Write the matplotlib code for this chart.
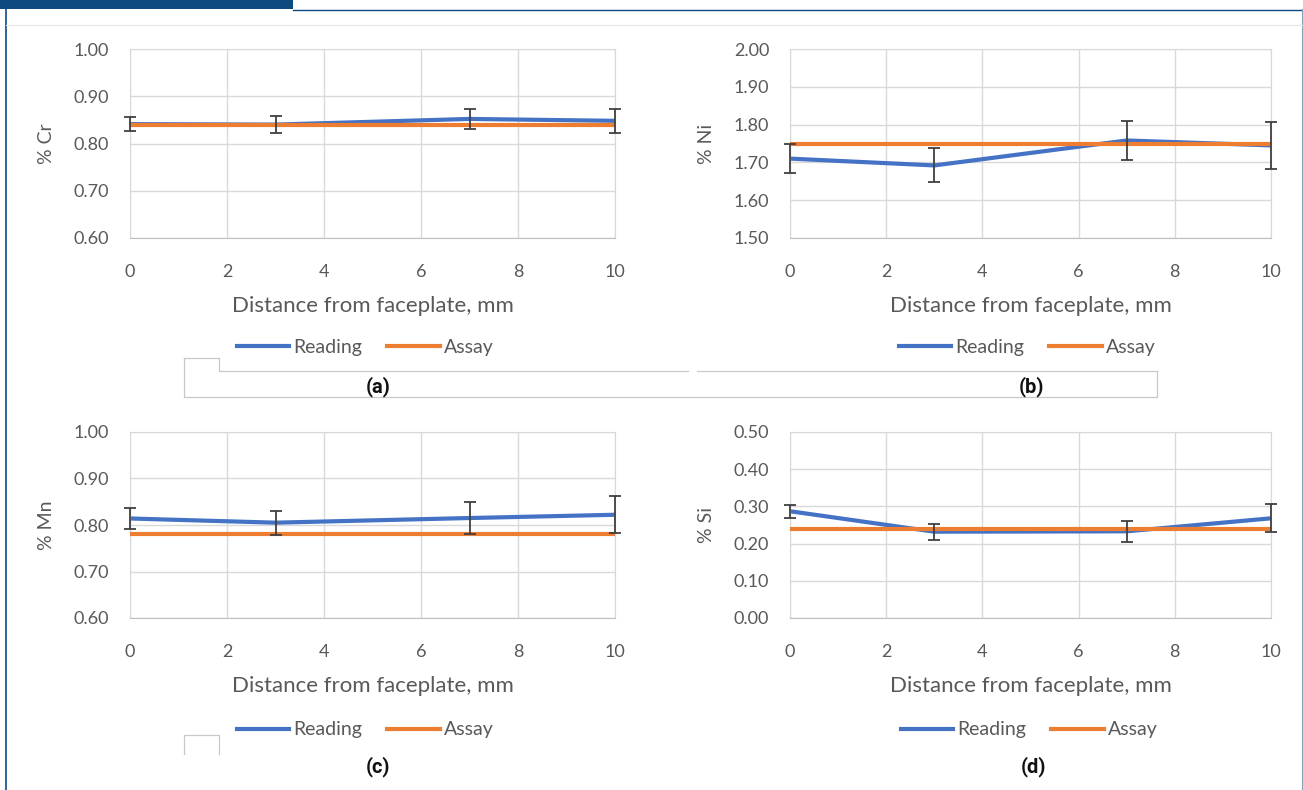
import matplotlib.pyplot as plt
from matplotlib.lines import Line2D
from matplotlib.patches import Rectangle

# distance from faceplate, mm
dist = [0, 3, 7, 10]

# readings (blue), error bars and assay (orange) for each element
cr_reading = [0.841, 0.840, 0.852, 0.848]
cr_err = [0.015, 0.018, 0.022, 0.026]
cr_assay = [0.840, 0.840, 0.840, 0.840]

ni_reading = [1.710, 1.692, 1.758, 1.745]
ni_err = [0.038, 0.045, 0.052, 0.063]
ni_assay = [1.750, 1.750, 1.750, 1.750]

mn_reading = [0.814, 0.805, 0.815, 0.822]
mn_err = [0.022, 0.026, 0.034, 0.040]
mn_assay = [0.780, 0.780, 0.780, 0.780]

si_reading = [0.287, 0.232, 0.233, 0.268]
si_err = [0.018, 0.022, 0.029, 0.038]
si_assay = [0.240, 0.240, 0.240, 0.240]

x_ticks = [0, 2, 4, 6, 8, 10]

W, H = 1303, 790
fig = plt.figure(figsize=(W / 100, H / 100), dpi=100)
fig.patch.set_facecolor('white')

font = ['Lato', 'DejaVu Sans']
txt = '#595959'
grid = '#d9d9d9'
blue = '#4472c4'
orange = '#ed7d31'


def px_axes(left, right, top, bottom):
    return fig.add_axes([left / W, 1 - bottom / H, (right - left) / W, (bottom - top) / H])


def panel(ax, reading, err, assay, ylo, yhi, ystep, ylabel, ylab_x):
    ax.plot(dist, assay, color=orange, lw=3, solid_capstyle='butt', zorder=3, label='Assay')
    ax.plot(dist, reading, color=blue, lw=3, solid_capstyle='butt', zorder=2, label='Reading')
    ax.errorbar(dist, reading, yerr=err, fmt='none', ecolor='#404040', elinewidth=1.3,
                capsize=4, capthick=1.3, zorder=4, clip_on=False)
    ax.set_xlim(0, 10)
    ax.set_ylim(ylo, yhi)
    ax.set_xticks(x_ticks)
    n = int(round((yhi - ylo) / ystep))
    ax.set_yticks([ylo + i * ystep for i in range(n + 1)])
    ax.yaxis.set_major_formatter(plt.FormatStrFormatter('%.2f'))
    ax.grid(True, color=grid, lw=1)
    ax.set_axisbelow(True)
    for s in ax.spines.values():
        s.set_color(grid)
    ax.spines['bottom'].set_color('#bfbfbf')
    ax.tick_params(axis='x', length=0, labelsize=13, labelcolor=txt, pad=19)
    ax.tick_params(axis='y', length=0, labelsize=13, labelcolor=txt, pad=15)
    for lab in ax.get_xticklabels() + ax.get_yticklabels():
        lab.set_family(font)
    bb = ax.get_position()
    h_px = bb.height * H
    ax.set_xlabel('Distance from faceplate, mm', fontsize=16, color=txt, family=font, va='center')
    ax.xaxis.set_label_coords(0.5, -68 / h_px)
    ax.set_ylabel(ylabel, fontsize=14, color=txt, family=font, va='center')
    ax.yaxis.set_label_coords((ylab_x - bb.x0 * W) / (bb.width * W), 0.5)


ax_a = px_axes(130, 615, 49, 238)
ax_b = px_axes(790, 1271, 49, 238)
ax_c = px_axes(130, 615, 432, 618)
ax_d = px_axes(790, 1271, 432, 618)

panel(ax_a, cr_reading, cr_err, cr_assay, 0.60, 1.00, 0.10, '% Cr', 46)
panel(ax_b, ni_reading, ni_err, ni_assay, 1.50, 2.00, 0.10, '% Ni', 706)
panel(ax_c, mn_reading, mn_err, mn_assay, 0.60, 1.00, 0.10, '% Mn', 46)
panel(ax_d, si_reading, si_err, si_assay, 0.00, 0.50, 0.10, '% Si', 706)

# legends and panel letters
leg_pos = [(365, 347), (1027, 347), (365, 730), (1029, 730)]
letters = [('(a)', 378, 387), ('(b)', 1031, 387), ('(c)', 378, 767), ('(d)', 1033, 767)]
handles = [Line2D([], [], color=blue, lw=3), Line2D([], [], color=orange, lw=3)]
for (lx, ly) in leg_pos:
    fig.legend(handles, ['Reading', 'Assay'], loc='center', bbox_to_anchor=(lx / W, 1 - ly / H),
               ncol=2, frameon=False, handlelength=2.7, handletextpad=0.2, columnspacing=1.3,
               prop={'family': font, 'size': 14}, labelcolor=txt)
for (s, lx, ly) in letters:
    fig.text(lx / W, 1 - ly / H, s, ha='center', va='center', fontsize=14.5, fontweight='bold',
             family=['Roboto', 'DejaVu Sans'], color='#111111')

# page decorations: header bar, side borders, leftover boxes
fig.add_artist(Rectangle((0, 1 - 9 / H), 293 / W, 9 / H, transform=fig.transFigure,
                         color='#0d4a80', lw=0))
fig.add_artist(Line2D([293 / W, 1], [1 - 9.5 / H, 1 - 9.5 / H], color='#0d4a80', lw=1))
fig.add_artist(Line2D([6 / W, 6 / W], [0, 1 - 9 / H], color='#0d4a80', lw=1.2))
fig.add_artist(Line2D([1301.5 / W, 1301.5 / W], [0, 1 - 9 / H], color='#8aa0b8', lw=0.8))
fig.add_artist(Line2D([6 / W, 1], [1 - 25 / H, 1 - 25 / H], color='#e6e6e6', lw=0.8))
fig.add_artist(Line2D([184 / W, 184 / W, 1157 / W, 1157 / W],
                      [1 - 358 / H, 1 - 397 / H, 1 - 397 / H, 1 - 371 / H], color='#c8c8c8', lw=0.9))
fig.add_artist(Line2D([184 / W, 219 / W, 219 / W, 688 / W], [1 - 358 / H, 1 - 358 / H, 1 - 371 / H, 1 - 371 / H],
                      color='#c8c8c8', lw=0.9))
fig.add_artist(Line2D([697 / W, 1157 / W], [1 - 371 / H, 1 - 371 / H], color='#c8c8c8', lw=0.9))
fig.add_artist(Line2D([184 / W, 184 / W, 219 / W, 219 / W],
                      [1 - 754 / H, 1 - 735 / H, 1 - 735 / H, 1 - 754 / H], color='#c8c8c8', lw=0.9))

fig.savefig('out.png', dpi=100)
